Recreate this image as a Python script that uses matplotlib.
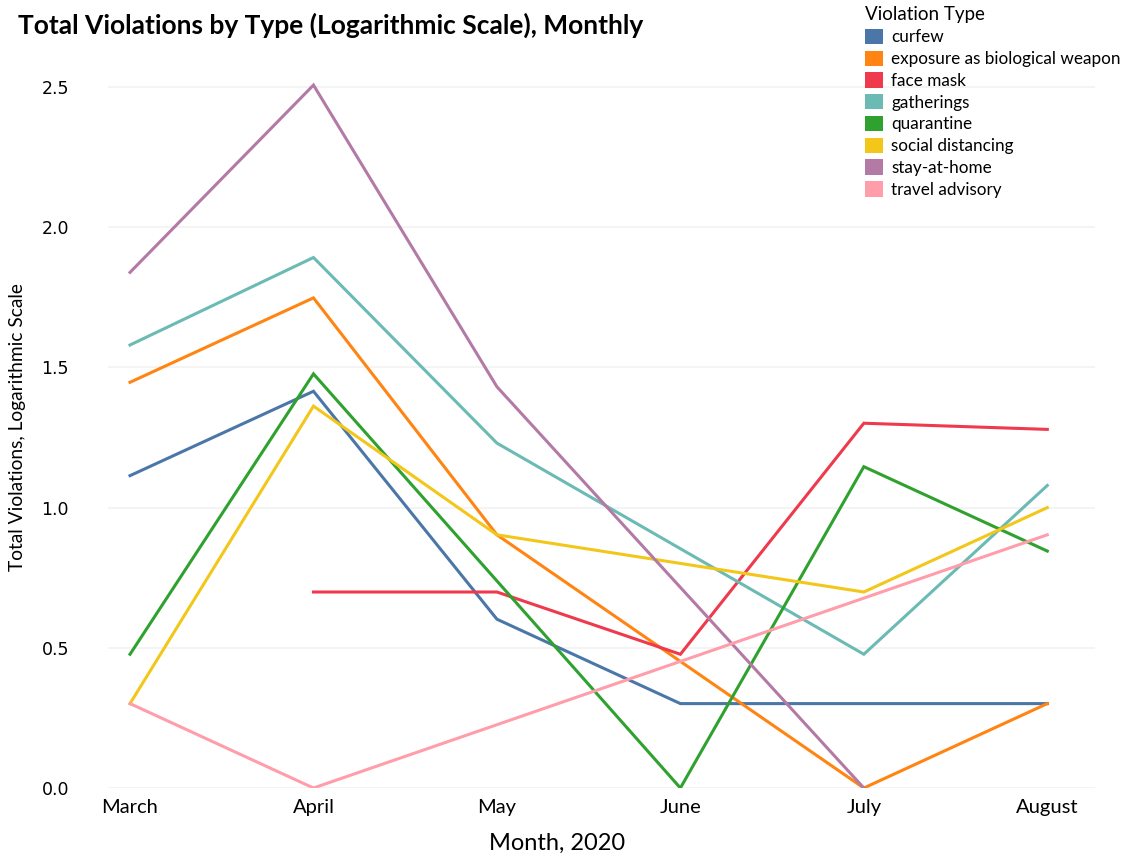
import matplotlib
matplotlib.use("Agg")
import matplotlib.pyplot as plt
from matplotlib.patches import Patch
import numpy as np

months = ["March", "April", "May", "June", "July", "August"]
series_names = ["curfew", "exposure as biological weapon", "face mask", "gatherings",
                "quarantine", "social distancing", "stay-at-home", "travel advisory"]
colors = ["#4a77a8", "#ff8412", "#ee3a4c", "#6bbab4", "#2fa12f", "#f2c71a", "#b47aa6", "#ff9dab"]

# log10 of monthly counts; None = no record that month
curfew = [1.114, 1.415, 0.602, 0.301, 0.301, 0.301]
exposure = [1.447, 1.748, 0.903, None, 0.0, 0.301]
face_mask = [None, 0.699, 0.699, 0.477, 1.301, 1.279]
gatherings = [1.580, 1.892, 1.230, None, 0.477, 1.079]
quarantine = [0.477, 1.477, None, 0.0, 1.146, 0.845]
social_distancing = [0.301, 1.362, 0.903, None, 0.699, 1.0]
stay_at_home = [1.839, 2.507, 1.431, None, 0.0, None]
travel_advisory = [0.301, 0.0, None, None, None, 0.903]

all_series = [curfew, exposure, face_mask, gatherings, quarantine,
              social_distancing, stay_at_home, travel_advisory]

fig = plt.figure(figsize=(11.23, 8.56), dpi=100)
W, H = 1123, 856
ax = fig.add_axes([108 / W, (H - 788) / H, (1095 - 108) / W, (788 - 59) / H])

fam = ["Lato", "DejaVu Sans"]

for name, vals, c in zip(series_names, all_series, colors):
    xs = [i for i, v in enumerate(vals) if v is not None]
    ys = [v for v in vals if v is not None]
    ax.plot(xs, ys, color=c, lw=2.2, solid_joinstyle="miter", zorder=3)

ax.set_xlim(-0.12, 5.26)
ax.set_ylim(0, 2.6)
ax.set_yticks([0, 0.5, 1.0, 1.5, 2.0, 2.5])
ax.set_yticklabels(["0.0", "0.5", "1.0", "1.5", "2.0", "2.5"], fontsize=12.5, family="DejaVu Sans")
ax.set_xticks(range(len(months)))
ax.set_xticklabels(months, fontsize=14.5, family=fam)
ax.tick_params(length=0)
ax.tick_params(axis="y", pad=28)
ax.tick_params(axis="x", pad=8)
ax.grid(axis="y", color="#f2f2f2", lw=1.2, zorder=0)
for s in ax.spines.values():
    s.set_visible(False)

fig.text(18 / W, 1 - 25 / H, "Total Violations by Type (Logarithmic Scale), Monthly",
         fontsize=19, fontweight="bold", family=fam, va="center", ha="left")
fig.text(18 / W, 1 - 427 / H, "Total Violations, Logarithmic Scale", rotation=90,
         fontsize=13.8, family=fam, va="center", ha="center")
fig.text(557 / W, 1 - 843 / H, "Month, 2020", fontsize=17, family=fam, va="center", ha="center")

handles = [Patch(facecolor=c, edgecolor="none") for c in colors]
leg = fig.legend(handles, series_names, title="Violation Type", loc="upper left",
                 bbox_to_anchor=(862 / W, 1 - 3 / H), frameon=False,
                 prop={"family": fam, "size": 12.3}, title_fontproperties={"family": fam, "size": 13.5},
                 handlelength=1.0, handleheight=1.0, handletextpad=0.5, labelspacing=0.31,
                 borderaxespad=0, borderpad=0.2)
leg._legend_box.align = "left"

fig.savefig("out.png", dpi=100)
